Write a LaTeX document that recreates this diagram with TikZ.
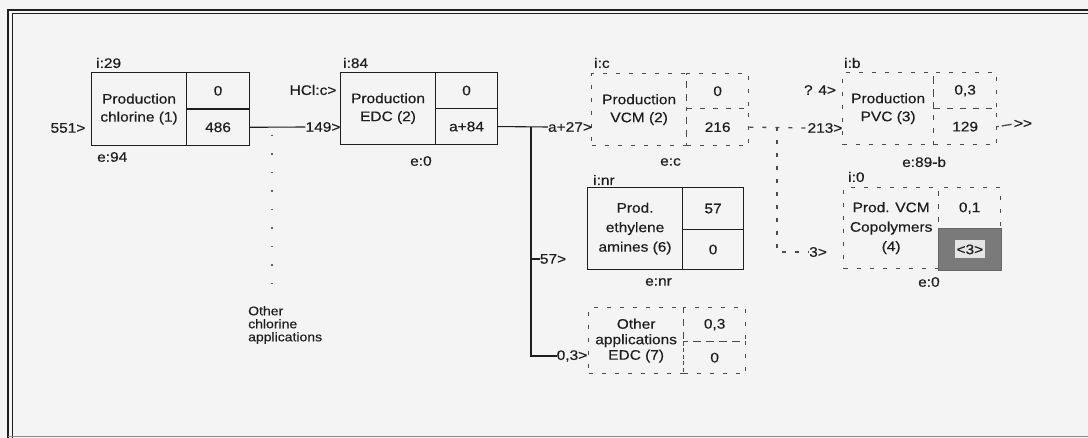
\documentclass[tikz,border=0pt]{standalone}
\usepackage{fontspec}
\setmainfont{Liberation Sans}[FakeStretch=1.12, FakeBold=0.4, Ligatures=NoCommon]
\definecolor{paper}{HTML}{F4F4F4}
\definecolor{ink}{HTML}{1E1E1E}
\begin{document}
\begin{tikzpicture}[x=1pt,y=-1pt,
  every node/.style={text=ink, font=\fontsize{13.8}{18}\selectfont, inner sep=0pt},
  solidcell/.style={draw=ink, line width=1.1pt, anchor=north west, align=center},
  dotcell/.style={draw=ink!80, line width=1.3pt, dash pattern=on 4pt off 9pt, anchor=north west, align=center},
  tag/.style={anchor=west},
  flow/.style={draw=ink, line width=1.1pt},
  dflow/.style={draw=ink!80, line width=1.3pt, dash pattern=on 4pt off 9pt},
  sparse/.style={draw=ink!70, line width=1.5pt, dash pattern=on 1.5pt off 17pt},
  shadebox/.style={fill=black!52, draw=black!60, line width=0.8pt, anchor=north west},
  frameline/.style={draw=ink, line width=1.3pt}
]
\useasboundingbox (0,0) rectangle (1088,438);
\fill[paper] (0,0) rectangle (1088,438);
% frame
\draw[frameline] (8,438) -- (8,10) -- (1088,10);
\draw[frameline, line width=1pt] (12,438) -- (12,14) -- (1088,14);
\draw[draw=black!45, line width=1pt] (8,436.5) -- (1088,436.5);

% Production chlorine (1)
\node[solidcell, minimum width=95pt, minimum height=73pt] (chl) at (91,72) {Production\\chlorine (1)};
\node[solidcell, minimum width=63pt, minimum height=36.5pt] (chlA) at (186,72) {0};
\node[solidcell, minimum width=63pt, minimum height=36.5pt] (chlB) at (186,108.5) {486};
\node[tag] (i29) at (96,63) {i:29};
\node[tag] (e94) at (97,157) {e:94};
\node (in551) at (68,128) {551>};

% Production EDC (2)
\node[solidcell, minimum width=95pt, minimum height=72pt] (edc) at (340,72) {Production\\EDC (2)};
\node[solidcell, minimum width=62pt, minimum height=36pt] (edcA) at (435,72) {0};
\node[solidcell, minimum width=62pt, minimum height=36pt] (edcB) at (435,108) {a+84};
\node[tag] (i84) at (343,63) {i:84};
\node[tag] (e0a) at (410,161) {e:0};
\node (hcl) at (313,90) {HCl:c>};
\node (c149) at (323,127) {149>};

% Production VCM (2)
\node[dotcell, minimum width=95pt, minimum height=72pt] (vcm) at (591,73) {Production\\VCM (2)};
\node[dotcell, minimum width=62pt, minimum height=35pt] (vcmA) at (686,73) {0};
\node[dotcell, minimum width=62pt, minimum height=37pt] (vcmB) at (686,108) {216};
\node[tag] (ic) at (594,63) {i:c};
\node[tag] (ec) at (660,162) {e:c};
\node (a27) at (570,127) {a+27>};

% Prod. ethylene amines (6)
\node[solidcell, minimum width=95pt, minimum height=82pt, font=\fontsize{13.8}{19.5}\selectfont] (ea) at (587,187) {Prod.\\ethylene\\amines (6)};
\node[solidcell, minimum width=61pt, minimum height=42pt] (eaA) at (682,187) {57};
\node[solidcell, minimum width=61pt, minimum height=40pt] (eaB) at (682,229) {0};
\node[tag] (inr) at (593,180) {i:nr};
\node[tag] (enr) at (645,282) {e:nr};
\node (n57) at (553,259) {57>};

% Other applications EDC (7)
\node[dotcell, minimum width=95pt, minimum height=66pt, font=\fontsize{13.8}{15.5}\selectfont] (oth) at (588,307) {Other\\applications\\EDC (7)};
\node[dotcell, minimum width=62pt, minimum height=34pt] (othA) at (683,307) {0,3};
\node[dotcell, minimum width=62pt, minimum height=32pt] (othB) at (683,341) {0};
\node (n03) at (572,356) {0,3>};

% Production PVC (3)
\node[dotcell, minimum width=91pt, minimum height=72pt] (pvc) at (842,72) {Production\\PVC (3)};
\node[dotcell, minimum width=63pt, minimum height=36pt] (pvcA) at (933,72) {0,3};
\node[dotcell, minimum width=63pt, minimum height=36pt] (pvcB) at (933,108) {129};
\node[tag] (ib) at (844,63) {i:b};
\node[tag] (e89) at (902,162) {e:89-b};
\node (q4) at (820,90) {? 4>};
\node (c213) at (825,128) {213>};
\node (out) at (1023,124) {>{}>};

% Prod. VCM Copolymers (4)
\node[dotcell, minimum width=95pt, minimum height=81pt, font=\fontsize{13.8}{19.5}\selectfont] (cop) at (843,187) {Prod. VCM\\Copolymers\\(4)};
\node[dotcell, minimum width=62pt, minimum height=41pt] (copA) at (938,187) {0,1};
\node[shadebox, minimum width=63pt, minimum height=42pt] (copB) at (938,228) {};
\node[fill=black!10, inner xsep=2pt, inner ysep=2pt, minimum width=28pt, minimum height=18pt] (c3b) at (copB.center) {<3>};
\node[tag] (i0) at (848,177) {i:0};
\node[tag] (e0b) at (918,282) {e:0};
\node (c3) at (818,252) {3>};

% Other chlorine applications
\node[anchor=north west, align=left, font=\fontsize{12.5}{13}\selectfont] (oca) at (248,306) {Other\\chlorine\\applications};

% connectors
\coordinate (j1) at (272,127);
\draw[flow] (chlB.east) -- (c149.west);
\draw[sparse, shorten <=8pt, shorten >=5pt] (j1) -- (j1 |- oca.north);

\coordinate (j2) at (531,127);
\draw[flow] (edcB.east) -- (a27.west);
\draw[flow] (j2) |- (n03.west);
\draw[flow] (j2 |- n57) -- (n57.west);

\coordinate (j3) at (777,127);
\draw[dflow] (vcmB.east) -- (c213.west);
\draw[dflow] (j3) |- (c3.west);
\draw[dflow, dash pattern=on 1.5pt off 3pt on 10pt off 2pt] (pvcB.east) -- (out.west);
\end{tikzpicture}
\end{document}
